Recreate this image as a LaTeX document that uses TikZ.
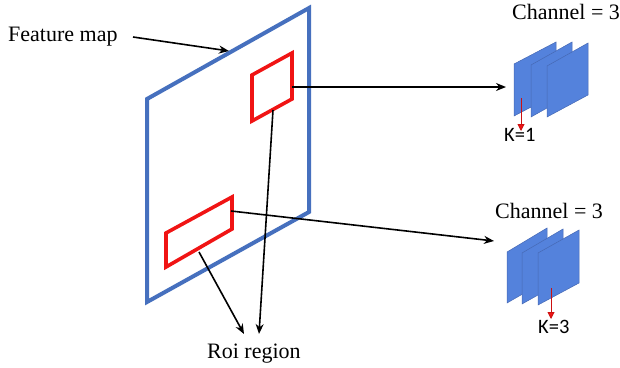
\documentclass[tikz,border=0pt]{standalone}
\usepackage{fontspec}
\setmainfont{Liberation Serif}
\newfontfamily\calib{Carlito}
\usetikzlibrary{arrows.meta}
\definecolor{frameblue}{RGB}{70,112,190}
\definecolor{planeblue}{RGB}{84,130,220}
\definecolor{planeedge}{RGB}{70,105,180}
\definecolor{roired}{RGB}{240,20,20}
\tikzset{
  lbl/.style={font=\fontsize{22}{24}\selectfont, inner sep=0pt},
  klbl/.style={font=\calib\fontsize{20.5}{22}\selectfont, inner sep=0pt},
  frame/.style={draw=frameblue, line width=4pt, line join=miter},
  roi/.style={draw=roired, line width=3.6pt, line join=miter},
  plane/.style={fill=planeblue, draw=planeedge, line width=0.5pt},
  conn/.style={draw=black, line width=1.6pt, -{Stealth[length=10pt,width=8pt]}},
  karrow/.style={draw=roired!85!black, line width=0.9pt, -{Triangle[length=7pt,width=7pt,fill=roired]}}
}
\begin{document}
\begin{tikzpicture}[x=1pt,y=-1pt]
\useasboundingbox (0,0) rectangle (620,367);
% feature map
\draw[frame] (147,99) -- (309,8) -- (309,212) -- (147,302) -- cycle;
% roi rectangles
\draw[roi] (252,75) -- (292,53) -- (292,99) -- (252,121) -- cycle;
\draw[roi] (166,233) -- (232,197) -- (232,229) -- (166,267) -- cycle;
% anchor coordinates
\coordinate (fmedge) at (229,51);
\coordinate (roiAright) at (292,87);
\coordinate (roiAbot) at (273,110);
\coordinate (roiBright) at (231,211);
\coordinate (roiBbot) at (199,252);
\coordinate (stackA) at (506,87);
\coordinate (stackB) at (494,241);
\coordinate (roiTipA) at (244,334);
\coordinate (roiTipB) at (259,334);
% texts
\node[lbl, anchor=base west] (fm) at (8,41) {Feature map};
\node[lbl, anchor=base west] (chA) at (512,19) {Channel = 3};
\node[lbl, anchor=base west] (chB) at (495,218) {Channel = 3};
\node[lbl, anchor=base west] (roitxt) at (207,358) {Roi region};
\node[klbl, anchor=base west] (kA) at (504,141) {K=1};
\node[klbl, anchor=base west] (kB) at (538,333) {K=3};
% stack A
\draw[plane] (514,64) -- (556,42) -- (556,94) -- (514,116) -- cycle;
\draw[plane] (531,65) -- (572,42) -- (572,94) -- (531,117) -- cycle;
\draw[plane] (547,66) -- (588,43) -- (588,95) -- (547,117) -- cycle;
% stack B
\draw[plane] (507,252) -- (547,228) -- (547,280) -- (507,303) -- cycle;
\draw[plane] (522,253) -- (563,229) -- (563,281) -- (522,304) -- cycle;
\draw[plane] (538,253) -- (579,230) -- (579,283) -- (538,305) -- cycle;
% K arrows
\coordinate (kAs) at (521,98);
\coordinate (kBs) at (551,288);
\draw[karrow] (kAs) -- (521,131);
\draw[karrow] (kBs) -- (551,319);
% connectors
\draw[conn] (133,37) -- (fmedge);
\draw[conn] (roiAright) -- (stackA);
\draw[conn] (roiBright) -- (stackB);
\draw[conn] (roiAbot) -- (roiTipB);
\draw[conn] (roiBbot) -- (roiTipA);
\end{tikzpicture}
\end{document}
